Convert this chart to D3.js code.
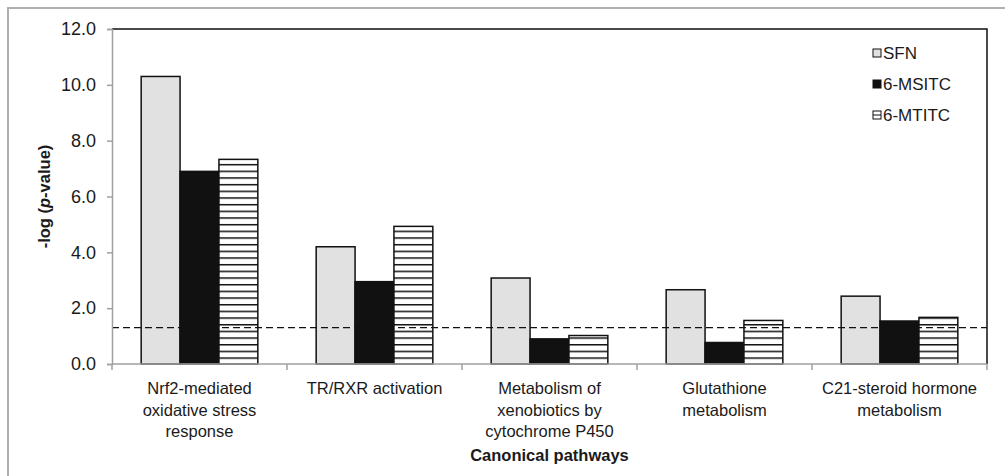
<!DOCTYPE html>
<html>
<head>
<meta charset="utf-8">
<script src="https://cdn.jsdelivr.net/npm/d3@7"></script>
<style>
  body { margin: 0; background: #fff; }
  svg text { font-family: "Liberation Sans", Arial, sans-serif; fill: #1a1a1a; }
</style>
</head>
<body>
<svg id="chart" width="1005" height="476"></svg>
<script>
const pathways = [
  ["Nrf2-mediated", "oxidative stress", "response"],
  ["TR/RXR activation"],
  ["Metabolism of", "xenobiotics by", "cytochrome P450"],
  ["Glutathione", "metabolism"],
  ["C21-steroid hormone", "metabolism"]
];
const seriesNames = ["SFN", "6-MSITC", "6-MTITC"];
const sfn = [10.3, 4.2, 3.08, 2.66, 2.43];
const msitc = [6.9, 2.95, 0.9, 0.77, 1.54];
const mtitc = [7.33, 4.93, 1.02, 1.56, 1.67];
const threshold = 1.3;
const yTicks = [0, 2, 4, 6, 8, 10, 12];

const plot = { left: 112, right: 987, top: 29, bottom: 364 };

const svg = d3.select("#chart");

// outer frame
svg.append("path")
  .attr("d", "M8,476 L8,8 L1005,8")
  .attr("fill", "none")
  .attr("stroke", "#b0b0b0")
  .attr("stroke-width", 2);

const defs = svg.append("defs");
const pat = defs.append("pattern")
  .attr("id", "stripes")
  .attr("patternUnits", "userSpaceOnUse")
  .attr("width", 10)
  .attr("height", 6.67)
  .attr("y", plot.bottom);
pat.append("rect").attr("width", 10).attr("height", 6.67).attr("fill", "#fff");
pat.append("rect").attr("y", 0).attr("width", 10).attr("height", 1.5).attr("fill", "#111");

const fills = ["#e0e1e0", "#111111", "url(#stripes)"];
const seriesValues = [sfn, msitc, mtitc];

const x = d3.scaleBand()
  .domain(d3.range(pathways.length))
  .range([plot.left, plot.right])
  .paddingInner(0)
  .paddingOuter(0);

const xInner = d3.scaleBand()
  .domain(d3.range(seriesNames.length))
  .range([0, x.bandwidth()])
  .paddingOuter(0.75)
  .paddingInner(0);

const y = d3.scaleLinear().domain([0, 12]).range([plot.bottom, plot.top]);

// plot area border (top/right)
svg.append("path")
  .attr("d", `M${plot.left},${plot.top} L${plot.right},${plot.top} L${plot.right},${plot.bottom}`)
  .attr("fill", "none")
  .attr("stroke", "#111")
  .attr("stroke-width", 1.5);

// bars
const groups = svg.append("g").selectAll("g")
  .data(pathways)
  .join("g")
  .attr("transform", (d, i) => `translate(${x(i)},0)`);

groups.selectAll("rect")
  .data((d, i) => seriesValues.map((s, k) => ({ k, v: s[i] })))
  .join("rect")
  .attr("x", d => xInner(d.k))
  .attr("width", xInner.bandwidth())
  .attr("y", d => y(d.v))
  .attr("height", d => y(0) - y(d.v))
  .attr("fill", d => fills[d.k])
  .attr("stroke", "#111")
  .attr("stroke-width", 1.5);

// threshold line
svg.append("line")
  .attr("x1", plot.left)
  .attr("x2", plot.right)
  .attr("y1", y(threshold))
  .attr("y2", y(threshold))
  .attr("stroke", "#111")
  .attr("stroke-width", 1.3)
  .attr("stroke-dasharray", "7,4");

// y axis
const yAxis = svg.append("g")
  .attr("transform", `translate(${plot.left},0)`)
  .call(d3.axisLeft(y).tickValues(yTicks).tickFormat(d3.format(".1f")).tickSize(5).tickPadding(11));
yAxis.select(".domain").attr("stroke", "#a0a0a0").attr("stroke-width", 1.5);
yAxis.selectAll(".tick line").attr("stroke", "#a0a0a0").attr("stroke-width", 1.5);
yAxis.selectAll(".tick text")
  .style("font-family", "'Liberation Sans', Arial, sans-serif")
  .style("font-size", "18px")
  .attr("fill", "#1a1a1a");

// x axis
const xAxisG = svg.append("g").attr("transform", `translate(0,${plot.bottom})`);
xAxisG.append("line")
  .attr("x1", plot.left).attr("x2", plot.right)
  .attr("stroke", "#a0a0a0").attr("stroke-width", 1.5);
xAxisG.selectAll("line.tick")
  .data(d3.range(pathways.length + 1))
  .join("line")
  .attr("class", "tick")
  .attr("x1", i => plot.left + i * x.step())
  .attr("x2", i => plot.left + i * x.step())
  .attr("y1", 0).attr("y2", 6)
  .attr("stroke", "#a0a0a0").attr("stroke-width", 1.5);

const labels = svg.append("g").selectAll("text")
  .data(pathways)
  .join("text")
  .attr("text-anchor", "middle")
  .attr("font-size", "16.5px")
  .attr("transform", (d, i) => `translate(${x(i) + x.bandwidth() / 2},${plot.bottom + 30})`);
labels.selectAll("tspan")
  .data(d => d)
  .join("tspan")
  .attr("x", 0)
  .attr("dy", (d, j) => j === 0 ? 0 : 21.5)
  .text(d => d);

// axis titles
svg.append("text")
  .attr("x", (plot.left + plot.right) / 2)
  .attr("y", 461)
  .attr("text-anchor", "middle")
  .attr("font-size", "16.5px")
  .attr("font-weight", "bold")
  .text("Canonical pathways");

const yTitle = svg.append("text")
  .attr("transform", `translate(50,${(plot.top + plot.bottom) / 2}) rotate(-90)`)
  .attr("text-anchor", "middle")
  .attr("font-size", "16.5px")
  .attr("font-weight", "bold");
yTitle.append("tspan").text("-log (");
yTitle.append("tspan").attr("font-style", "italic").text("p");
yTitle.append("tspan").text("-value)");

// legend
const legend = svg.append("g").attr("transform", "translate(873,53)");
const items = legend.selectAll("g")
  .data(seriesNames)
  .join("g")
  .attr("transform", (d, i) => `translate(0,${i * 31})`);
items.append("rect")
  .attr("x", 0).attr("y", -4)
  .attr("width", 8).attr("height", 8)
  .attr("fill", (d, i) => i === 2 ? "#fff" : fills[i])
  .attr("stroke", "#111").attr("stroke-width", 1);
items.filter((d, i) => i === 2).append("line")
  .attr("x1", 0).attr("x2", 8).attr("y1", 0).attr("y2", 0)
  .attr("stroke", "#111").attr("stroke-width", 1);
items.append("text")
  .attr("x", 10)
  .attr("dy", "0.35em")
  .attr("font-size", "17px")
  .text(d => d);
</script>
</body>
</html>
